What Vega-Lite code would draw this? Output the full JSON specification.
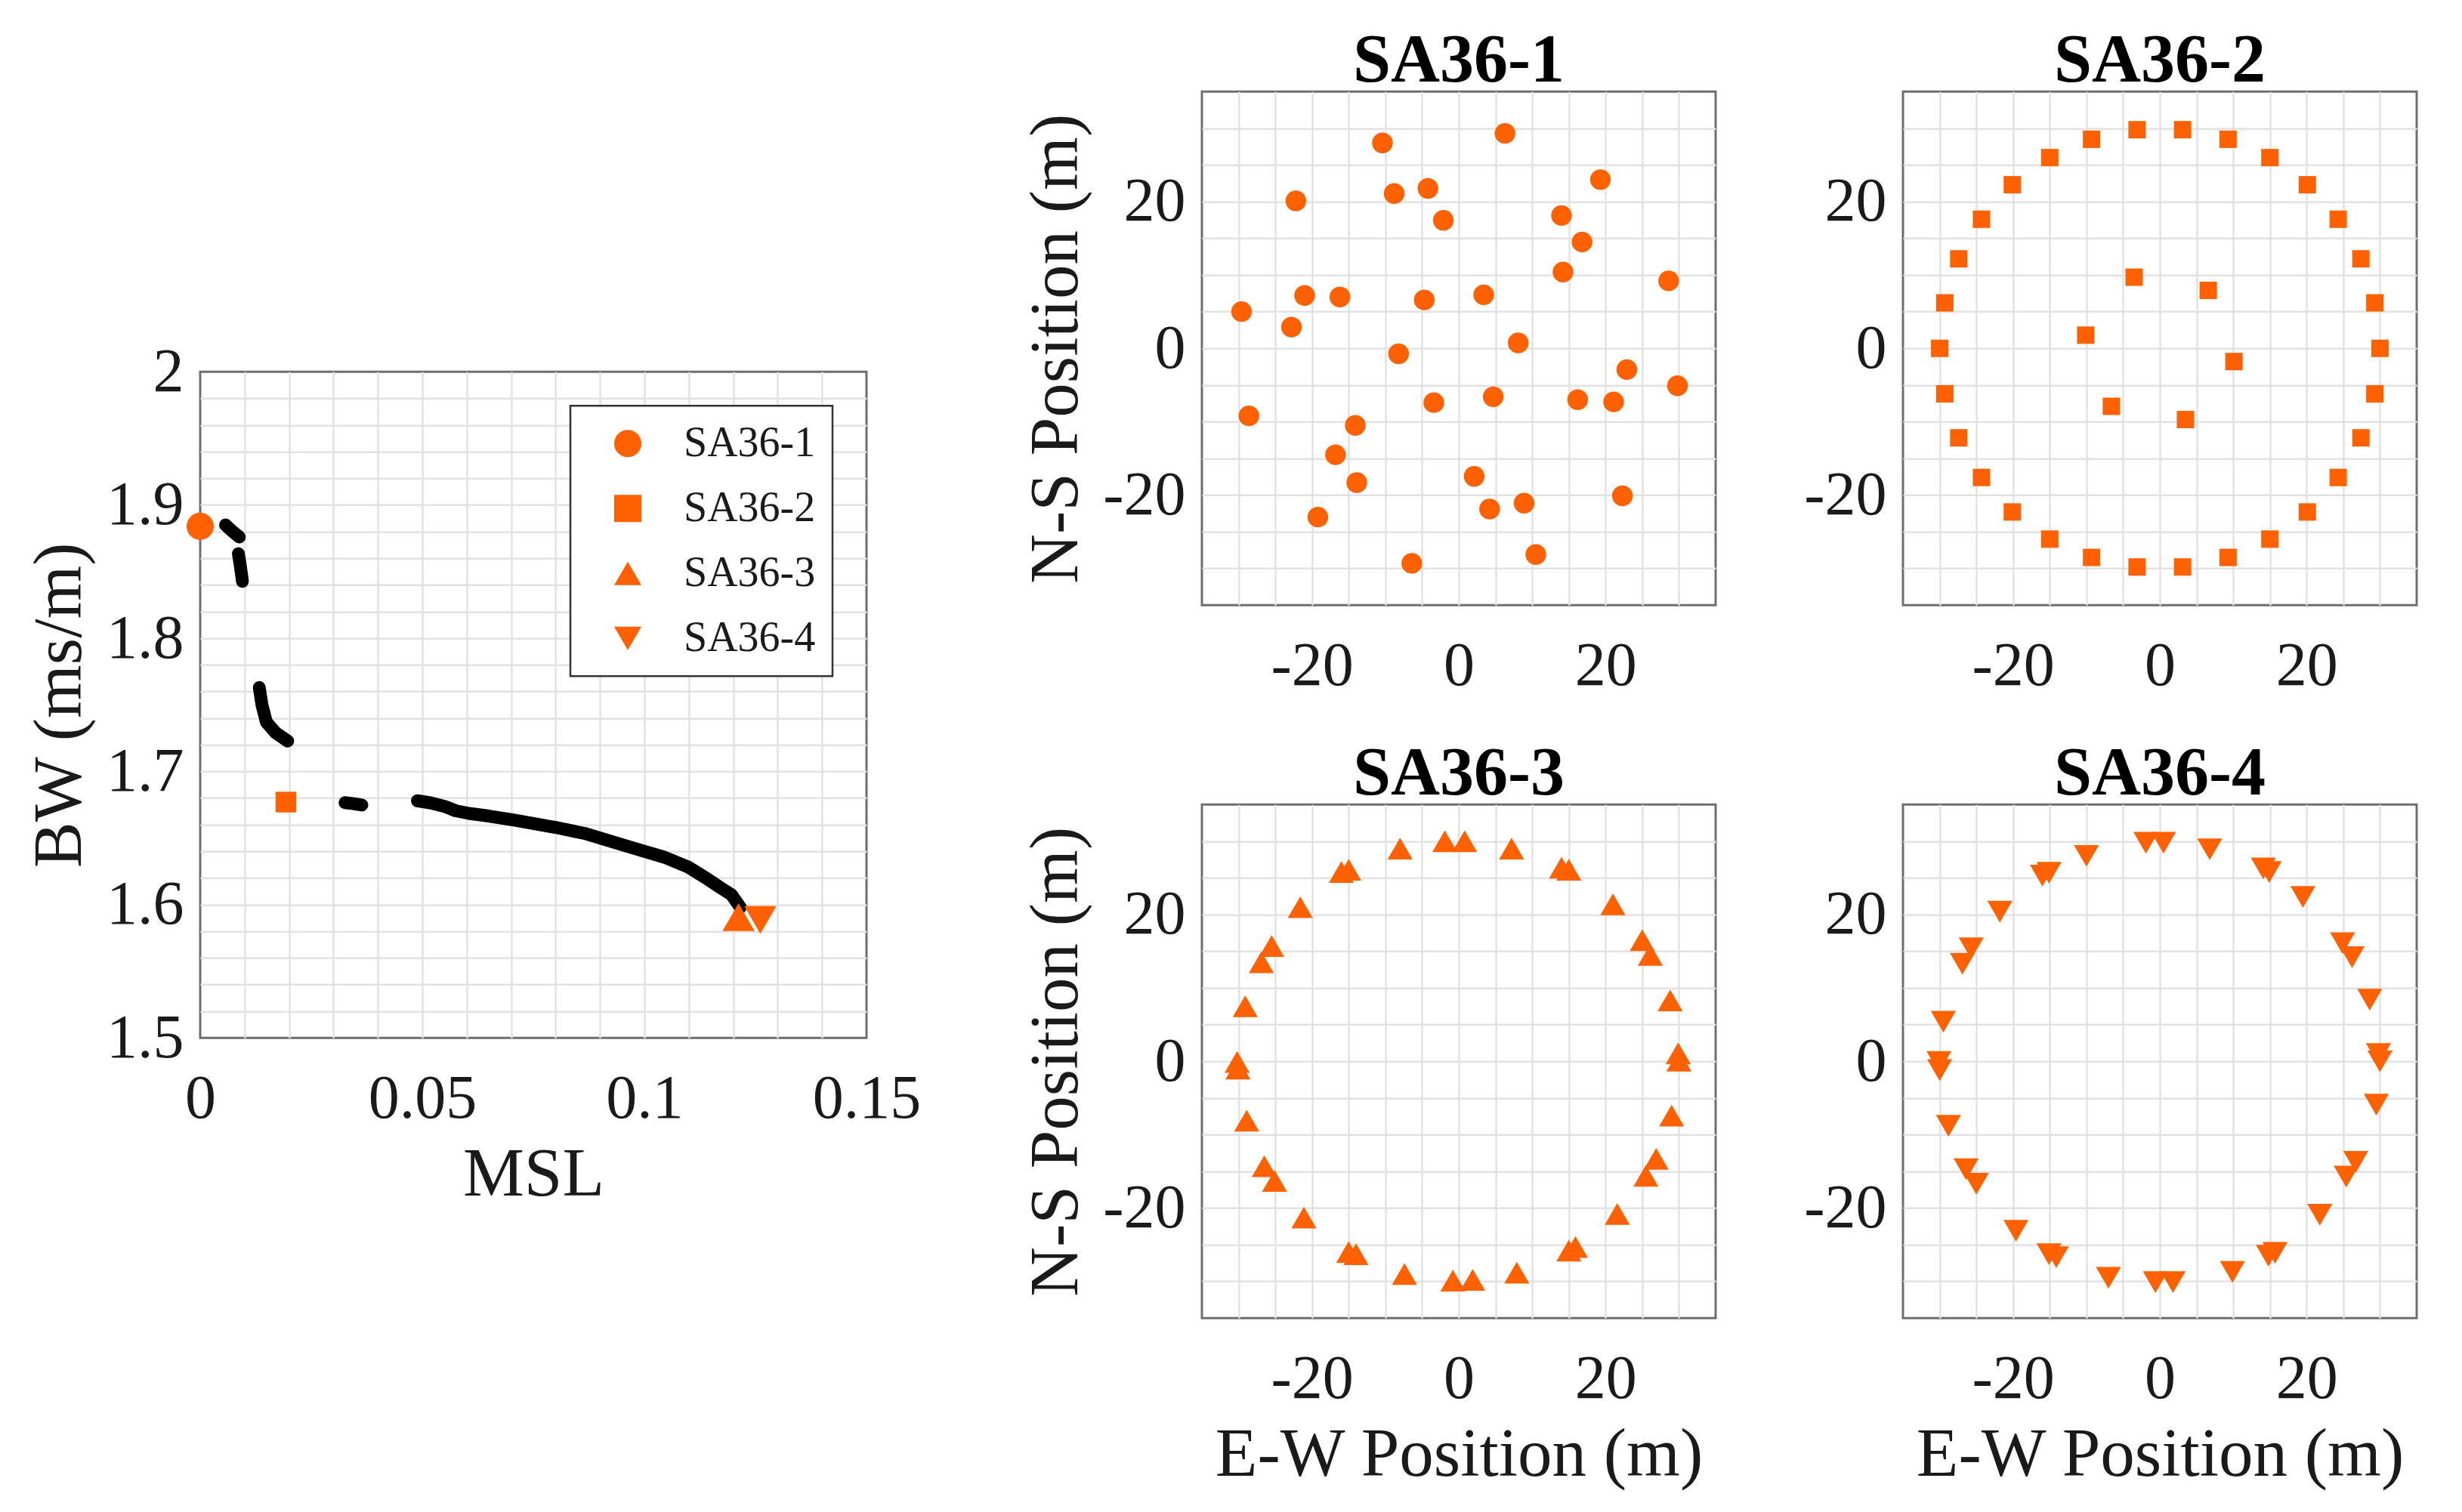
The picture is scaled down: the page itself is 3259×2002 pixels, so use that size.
{
  "$schema": "https://vega.github.io/schema/vega-lite/v6.json",
  "background": "white",
  "padding": {"left": 32, "top": 34, "right": 10, "bottom": 10},
  "center": true,
  "spacing": 130,
  "resolve": {"legend": {"shape": "independent"}},
  "datasets": {
    "curve": [
      {"seg": "a", "msl": 0.0057, "bw": 1.885},
      {"seg": "a", "msl": 0.0070, "bw": 1.881},
      {"seg": "a", "msl": 0.0088, "bw": 1.876},
      {"seg": "b", "msl": 0.0086, "bw": 1.8635},
      {"seg": "b", "msl": 0.0090, "bw": 1.855},
      {"seg": "b", "msl": 0.0093, "bw": 1.848},
      {"seg": "b", "msl": 0.0095, "bw": 1.8427},
      {"seg": "c", "msl": 0.0133, "bw": 1.763},
      {"seg": "c", "msl": 0.0139, "bw": 1.750},
      {"seg": "c", "msl": 0.0149, "bw": 1.737},
      {"seg": "c", "msl": 0.0170, "bw": 1.729},
      {"seg": "c", "msl": 0.0197, "bw": 1.7228},
      {"seg": "d", "msl": 0.0326, "bw": 1.6766},
      {"seg": "d", "msl": 0.0345, "bw": 1.6758},
      {"seg": "d", "msl": 0.0364, "bw": 1.6748},
      {"seg": "e", "msl": 0.0489, "bw": 1.678},
      {"seg": "e", "msl": 0.052, "bw": 1.6763},
      {"seg": "e", "msl": 0.055, "bw": 1.6738},
      {"seg": "e", "msl": 0.0575, "bw": 1.6705},
      {"seg": "e", "msl": 0.0605, "bw": 1.6685},
      {"seg": "e", "msl": 0.065, "bw": 1.6665},
      {"seg": "e", "msl": 0.0707, "bw": 1.6635},
      {"seg": "e", "msl": 0.080, "bw": 1.658},
      {"seg": "e", "msl": 0.0865, "bw": 1.6535},
      {"seg": "e", "msl": 0.091, "bw": 1.649},
      {"seg": "e", "msl": 0.0975, "bw": 1.6425},
      {"seg": "e", "msl": 0.1046, "bw": 1.6355},
      {"seg": "e", "msl": 0.110, "bw": 1.628},
      {"seg": "e", "msl": 0.1141, "bw": 1.6195},
      {"seg": "e", "msl": 0.117, "bw": 1.613},
      {"seg": "e", "msl": 0.1196, "bw": 1.6075},
      {"seg": "e", "msl": 0.1216, "bw": 1.598}
    ],
    "markers": [
      {"design": "SA36-1", "msl": 0, "bw": 1.884},
      {"design": "SA36-2", "msl": 0.0193, "bw": 1.677},
      {"design": "SA36-3", "msl": 0.1212, "bw": 1.5906},
      {"design": "SA36-4", "msl": 0.1261, "bw": 1.5885}
    ],
    "sa1": [
      {"ew": -10.4, "ns": 28.0}, {"ew": 6.3, "ns": 29.3}, {"ew": -22.2, "ns": 20.1},
      {"ew": -8.8, "ns": 21.1}, {"ew": -4.2, "ns": 21.8}, {"ew": -2.1, "ns": 17.45},
      {"ew": 19.3, "ns": 23.0}, {"ew": 14.0, "ns": 18.1}, {"ew": 16.8, "ns": 14.5},
      {"ew": 14.2, "ns": 10.4}, {"ew": 28.6, "ns": 9.2}, {"ew": -21.0, "ns": 7.2},
      {"ew": -16.2, "ns": 7.0}, {"ew": -4.7, "ns": 6.6}, {"ew": 3.4, "ns": 7.3},
      {"ew": -29.6, "ns": 5.0}, {"ew": -22.8, "ns": 2.9}, {"ew": 8.1, "ns": 0.75},
      {"ew": -8.2, "ns": -0.75}, {"ew": 22.9, "ns": -2.9}, {"ew": 29.8, "ns": -5.1},
      {"ew": -3.4, "ns": -7.4}, {"ew": 4.7, "ns": -6.6}, {"ew": 16.2, "ns": -7.0},
      {"ew": 21.1, "ns": -7.3}, {"ew": -28.6, "ns": -9.2}, {"ew": -14.1, "ns": -10.5},
      {"ew": -16.8, "ns": -14.5}, {"ew": -13.9, "ns": -18.3}, {"ew": 2.1, "ns": -17.45},
      {"ew": 4.2, "ns": -21.9}, {"ew": 8.9, "ns": -21.1}, {"ew": 22.3, "ns": -20.1},
      {"ew": -19.2, "ns": -23.0}, {"ew": -6.4, "ns": -29.3}, {"ew": 10.5, "ns": -28.1}
    ],
    "sa2": [
      {"ew": 30.0, "ns": 0}, {"ew": 29.3, "ns": 6.2}, {"ew": 27.4, "ns": 12.2},
      {"ew": 24.3, "ns": 17.6}, {"ew": 20.1, "ns": 22.3}, {"ew": 15.0, "ns": 26.0},
      {"ew": 9.3, "ns": 28.5}, {"ew": 3.1, "ns": 29.8}, {"ew": -3.1, "ns": 29.8},
      {"ew": -9.3, "ns": 28.5}, {"ew": -15.0, "ns": 26.0}, {"ew": -20.1, "ns": 22.3},
      {"ew": -24.3, "ns": 17.6}, {"ew": -27.4, "ns": 12.2}, {"ew": -29.3, "ns": 6.2},
      {"ew": -30.0, "ns": 0}, {"ew": -29.3, "ns": -6.2}, {"ew": -27.4, "ns": -12.2},
      {"ew": -24.3, "ns": -17.6}, {"ew": -20.1, "ns": -22.3}, {"ew": -15.0, "ns": -26.0},
      {"ew": -9.3, "ns": -28.5}, {"ew": -3.1, "ns": -29.8}, {"ew": 3.1, "ns": -29.8},
      {"ew": 9.3, "ns": -28.5}, {"ew": 15.0, "ns": -26.0}, {"ew": 20.1, "ns": -22.3},
      {"ew": 24.3, "ns": -17.6}, {"ew": 27.4, "ns": -12.2}, {"ew": 29.3, "ns": -6.2},
      {"ew": -3.5, "ns": 9.7}, {"ew": 6.6, "ns": 7.9}, {"ew": -10.1, "ns": 1.8},
      {"ew": 10.1, "ns": -1.8}, {"ew": -6.6, "ns": -7.9}, {"ew": 3.5, "ns": -9.7}
    ],
    "sa3": [
      {"ew": -1.9, "ns": 30.0}, {"ew": 0.8, "ns": 30.0}, {"ew": 7.2, "ns": 29.0},
      {"ew": -8.0, "ns": 29.0}, {"ew": 14.0, "ns": 26.4}, {"ew": 15.0, "ns": 26.1},
      {"ew": -16.0, "ns": 25.8}, {"ew": -15.0, "ns": 26.1}, {"ew": 21.0, "ns": 21.4},
      {"ew": -21.6, "ns": 21.0}, {"ew": 25.0, "ns": 16.5}, {"ew": 26.1, "ns": 14.5},
      {"ew": -25.5, "ns": 15.7}, {"ew": -26.9, "ns": 13.5}, {"ew": 28.8, "ns": 8.3},
      {"ew": -29.1, "ns": 7.5}, {"ew": 29.9, "ns": 1.1}, {"ew": 30.0, "ns": 0.1},
      {"ew": -30.2, "ns": -0.1}, {"ew": -30.1, "ns": -1.0}, {"ew": 29.0, "ns": -7.4},
      {"ew": -28.9, "ns": -8.1}, {"ew": 26.9, "ns": -13.3}, {"ew": 25.5, "ns": -15.6},
      {"ew": -26.5, "ns": -14.3}, {"ew": -25.1, "ns": -16.3}, {"ew": 21.6, "ns": -20.8},
      {"ew": -21.1, "ns": -21.3}, {"ew": 15.9, "ns": -25.3}, {"ew": 15.0, "ns": -25.8},
      {"ew": -15.0, "ns": -26.0}, {"ew": -14.0, "ns": -26.3}, {"ew": 7.9, "ns": -28.8},
      {"ew": -7.4, "ns": -29.0}, {"ew": -0.8, "ns": -29.9}, {"ew": 1.9, "ns": -29.8}
    ],
    "sa4": [
      {"ew": -1.9, "ns": 29.8}, {"ew": 0.5, "ns": 29.8}, {"ew": 6.8, "ns": 28.9},
      {"ew": -10.0, "ns": 28.0}, {"ew": 14.1, "ns": 26.3}, {"ew": 14.9, "ns": 25.8},
      {"ew": -16.0, "ns": 25.3}, {"ew": -15.1, "ns": 25.7}, {"ew": 19.5, "ns": 22.4},
      {"ew": -21.8, "ns": 20.4}, {"ew": 24.9, "ns": 16.1}, {"ew": 26.2, "ns": 14.2},
      {"ew": -25.7, "ns": 15.4}, {"ew": -26.9, "ns": 13.3}, {"ew": 28.6, "ns": 8.4},
      {"ew": -29.5, "ns": 5.4}, {"ew": 29.8, "ns": 1.0}, {"ew": 30.0, "ns": 0.0},
      {"ew": -30.1, "ns": -0.1}, {"ew": -30.0, "ns": -1.2}, {"ew": 29.5, "ns": -5.9},
      {"ew": -28.8, "ns": -8.8}, {"ew": 26.7, "ns": -13.7}, {"ew": 25.4, "ns": -15.7},
      {"ew": -26.4, "ns": -14.7}, {"ew": -25.0, "ns": -16.7}, {"ew": 21.8, "ns": -20.9},
      {"ew": -19.6, "ns": -23.1}, {"ew": 15.7, "ns": -26.1}, {"ew": 14.8, "ns": -26.5},
      {"ew": -15.1, "ns": -26.3}, {"ew": -14.1, "ns": -26.7}, {"ew": 9.9, "ns": -28.7},
      {"ew": -7.0, "ns": -29.5}, {"ew": -0.6, "ns": -30.1}, {"ew": 1.8, "ns": -30.1}
    ]
  },
  "hconcat": [
    {
      "width": 882,
      "height": 882,
      "encoding": {
        "x": {"field": "msl", "type": "quantitative", "title": "MSL",
          "scale": {"domain": [0, 0.15], "nice": false, "zero": false},
          "axis": {
            "values": [0, 0.01, 0.02, 0.03, 0.04, 0.05, 0.06, 0.07, 0.08, 0.09, 0.1, 0.11, 0.12, 0.13, 0.14, 0.15],
            "labelExpr": "round(datum.value * 100) % 5 == 0 ? '' + datum.value : ''",
            "labelOverlap": false,
            "gridOpacity": {"condition": {"test": "datum.value <= 0 || datum.value >= 0.15", "value": 0}, "value": 1}
          }},
        "y": {"field": "bw", "type": "quantitative", "title": "BW (ms/m)",
          "scale": {"domain": [1.5, 2], "nice": false, "zero": false},
          "axis": {
            "values": [1.5, 1.52, 1.54, 1.56, 1.58, 1.6, 1.62, 1.64, 1.66, 1.68, 1.7, 1.72, 1.74, 1.76, 1.78, 1.8, 1.82, 1.84, 1.86, 1.88, 1.9, 1.92, 1.94, 1.96, 1.98, 2],
            "labelExpr": "round(datum.value * 100) % 10 == 0 ? '' + datum.value : ''",
            "labelOverlap": false,
            "gridOpacity": {"condition": {"test": "datum.value <= 1.5 || datum.value >= 2", "value": 0}, "value": 1}
          }}
      },
      "layer": [
        {
          "data": {"name": "curve"},
          "mark": {"type": "line", "color": "black", "strokeWidth": 17, "strokeCap": "round", "strokeJoin": "round"},
          "encoding": {"detail": {"field": "seg", "type": "nominal"}}
        },
        {
          "data": {"name": "markers"},
          "transform": [{"filter": "datum.design == 'SA36-1'"}],
          "mark": {"type": "point", "filled": true, "opacity": 1, "color": "#ff6000", "size": 1300},
          "encoding": {
            "shape": {"field": "design", "type": "nominal",
              "scale": {"domain": ["SA36-1", "SA36-2", "SA36-3", "SA36-4"], "range": ["circle", "square", "triangle-up", "triangle-down"]},
              "legend": {"title": null, "orient": "top-right", "offset": 45, "labelLimit": 500}}
          }
        },
        {
          "data": {"name": "markers"},
          "transform": [{"filter": "datum.design == 'SA36-2'"}],
          "mark": {"type": "point", "filled": true, "opacity": 1, "color": "#ff6000", "size": 750},
          "encoding": {"shape": {"field": "design", "type": "nominal"}}
        },
        {
          "data": {"name": "markers"},
          "transform": [{"filter": "datum.design == 'SA36-3' || datum.design == 'SA36-4'"}],
          "mark": {"type": "point", "filled": true, "opacity": 1, "color": "#ff6000", "size": 1800},
          "encoding": {"shape": {"field": "design", "type": "nominal"}}
        }
      ]
    },
    {
      "spacing": 54,
      "vconcat": [
        {
          "spacing": 113,
          "hconcat": [
            {
              "title": "SA36-1",
              "width": 680, "height": 680,
              "data": {"name": "sa1"},
              "mark": {"type": "point", "filled": true, "opacity": 1, "color": "#ff6000", "shape": "circle", "size": 750},
              "encoding": {
                "x": {"field": "ew", "type": "quantitative", "title": null,
                  "scale": {"domain": [-35, 35], "nice": false, "zero": false},
                  "axis": {"values": [-30, -25, -20, -15, -10, -5, 0, 5, 10, 15, 20, 25, 30], "labelOverlap": false, "labelExpr": "datum.value % 20 == 0 ? '' + datum.value : ''"}},
                "y": {"field": "ns", "type": "quantitative", "title": "N-S Position (m)",
                  "scale": {"domain": [-35, 35], "nice": false, "zero": false},
                  "axis": {"values": [-30, -25, -20, -15, -10, -5, 0, 5, 10, 15, 20, 25, 30], "labelOverlap": false, "labelExpr": "datum.value % 20 == 0 ? '' + datum.value : ''"}}
              }
            },
            {
              "title": "SA36-2",
              "width": 680, "height": 680,
              "data": {"name": "sa2"},
              "mark": {"type": "point", "filled": true, "opacity": 1, "color": "#ff6000", "shape": "square", "size": 530},
              "encoding": {
                "x": {"field": "ew", "type": "quantitative", "title": null,
                  "scale": {"domain": [-35, 35], "nice": false, "zero": false},
                  "axis": {"values": [-30, -25, -20, -15, -10, -5, 0, 5, 10, 15, 20, 25, 30], "labelOverlap": false, "labelExpr": "datum.value % 20 == 0 ? '' + datum.value : ''"}},
                "y": {"field": "ns", "type": "quantitative", "title": null,
                  "scale": {"domain": [-35, 35], "nice": false, "zero": false},
                  "axis": {"values": [-30, -25, -20, -15, -10, -5, 0, 5, 10, 15, 20, 25, 30], "labelOverlap": false, "labelExpr": "datum.value % 20 == 0 ? '' + datum.value : ''"}}
              }
            }
          ]
        },
        {
          "spacing": 113,
          "hconcat": [
            {
              "title": "SA36-3",
              "width": 680, "height": 680,
              "data": {"name": "sa3"},
              "mark": {"type": "point", "filled": true, "opacity": 1, "color": "#ff6000", "shape": "triangle-up", "size": 1100},
              "encoding": {
                "x": {"field": "ew", "type": "quantitative", "title": "E-W Position (m)",
                  "scale": {"domain": [-35, 35], "nice": false, "zero": false},
                  "axis": {"values": [-30, -25, -20, -15, -10, -5, 0, 5, 10, 15, 20, 25, 30], "labelOverlap": false, "labelExpr": "datum.value % 20 == 0 ? '' + datum.value : ''"}},
                "y": {"field": "ns", "type": "quantitative", "title": "N-S Position (m)",
                  "scale": {"domain": [-35, 35], "nice": false, "zero": false},
                  "axis": {"values": [-30, -25, -20, -15, -10, -5, 0, 5, 10, 15, 20, 25, 30], "labelOverlap": false, "labelExpr": "datum.value % 20 == 0 ? '' + datum.value : ''"}}
              }
            },
            {
              "title": "SA36-4",
              "width": 680, "height": 680,
              "data": {"name": "sa4"},
              "mark": {"type": "point", "filled": true, "opacity": 1, "color": "#ff6000", "shape": "triangle-down", "size": 1100},
              "encoding": {
                "x": {"field": "ew", "type": "quantitative", "title": "E-W Position (m)",
                  "scale": {"domain": [-35, 35], "nice": false, "zero": false},
                  "axis": {"values": [-30, -25, -20, -15, -10, -5, 0, 5, 10, 15, 20, 25, 30], "labelOverlap": false, "labelExpr": "datum.value % 20 == 0 ? '' + datum.value : ''"}},
                "y": {"field": "ns", "type": "quantitative", "title": null,
                  "scale": {"domain": [-35, 35], "nice": false, "zero": false},
                  "axis": {"values": [-30, -25, -20, -15, -10, -5, 0, 5, 10, 15, 20, 25, 30], "labelOverlap": false, "labelExpr": "datum.value % 20 == 0 ? '' + datum.value : ''"}}
              }
            }
          ]
        }
      ]
    }
  ],
  "config": {
    "font": "Liberation Serif",
    "view": {"stroke": "#6e6e6e", "strokeWidth": 3, "fill": "white"},
    "axis": {
      "domain": false,
      "ticks": false,
      "grid": true,
      "gridColor": "#e2e2e2",
      "gridWidth": 2.5,
      "labelFont": "Liberation Serif",
      "labelFontSize": 82,
      "labelColor": "#1a1a1a",
      "labelPadding": 22,
      "labelFlush": false,
      "titleFont": "Liberation Serif",
      "titleFontSize": 91,
      "titleFontWeight": "normal",
      "titleColor": "#1a1a1a",
      "titlePadding": 15
    },
    "axisX": {"labelPadding": 40},
    "title": {"font": "Liberation Serif", "fontSize": 90, "fontWeight": "bold", "color": "black", "offset": -6},
    "legend": {
      "strokeColor": "#333333",
      "strokeWidth": 2.5,
      "fillColor": "white",
      "padding": 22,
      "labelFont": "Liberation Serif",
      "labelFontSize": 56,
      "labelColor": "#1a1a1a",
      "labelOffset": 46,
      "symbolSize": 1300,
      "symbolOffset": 26,
      "symbolStrokeWidth": 0,
      "rowPadding": 30
    }
  }
}
